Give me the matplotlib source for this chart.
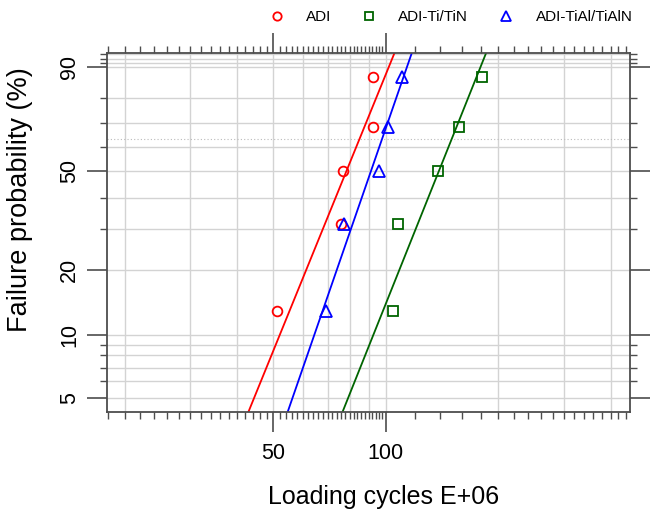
import numpy as np
import matplotlib
matplotlib.use("Agg")
import matplotlib.pyplot as plt
from matplotlib.lines import Line2D
from matplotlib.ticker import FixedLocator, NullFormatter, FixedFormatter

plt.rcParams['font.family'] = ['Liberation Sans', 'DejaVu Sans']

# ---- data (loading cycles, E+06) ----
series_names = ["ADI", "ADI-Ti/TiN", "ADI-TiAl/TiAlN"]
adi = [51.3, 75.8, 76.7, 92.3, 92.6]
ti_tin = [104.8, 108.1, 138.3, 157.5, 180.7]
tial_tialn = [69.1, 77.2, 95.9, 101.2, 110.4]
# fitted Weibull parameters (shape beta, scale eta)
shapes = [4.58, 4.66, 5.39]
scales = [85.0, 150.1, 97.7]
colors = ["#FF0000", "#006400", "#0000FF"]
markers = ["o", "s", "^"]

y_major = [5, 10, 20, 50, 90]
y_minor = [6, 7, 8, 9, 30, 40, 60, 70, 80, 91, 92, 93]
x_major = [50, 100]
x_minor = list(range(18, 100, 2)) + list(range(120, 460, 20))
x_grid = [20, 30, 40, 50, 60, 70, 80, 90, 100, 200, 300, 400]


def wb(p):
    p = np.asarray(p, dtype=float)
    return np.log(-np.log(1.0 - p))


W, H = 650, 512
fig = plt.figure(figsize=(W / 100, H / 100), dpi=100)
L, R, T, B = 107, 630, 53.3, 411.7
ax = fig.add_axes([L / W, 1 - B / H, (R - L) / W, (B - T) / H])
ax.set_xscale("log")
xlim = (17.93, 451.0)
ylim = (-3.131, 0.9885)
ax.set_xlim(*xlim)
ax.set_ylim(*ylim)

# grid
gcol = "#D3D3D3"
for xv in x_grid:
    ax.axvline(xv, color=gcol, lw=1.0, zorder=0)
for pv in y_major + y_minor:
    ax.axhline(wb(pv / 100), color=gcol, lw=1.0, zorder=0)
ax.axhline(0.0, color="#BBBBBB", lw=0.8, ls=(0, (1, 2)), zorder=0)

# data
data = [adi, ti_tin, tial_tialn]
wline = np.linspace(ylim[0], ylim[1], 200)
for vals, beta, eta, c, m in zip(data, shapes, scales, colors, markers):
    v = np.sort(np.asarray(vals))
    n = len(v)
    ranks = (np.arange(1, n + 1) - 0.3) / (n + 0.4)
    ax.plot(v, wb(ranks), ls="none", marker=m, ms=7 if m != "^" else 8,
            mfc="none", mec=c, mew=1.3, zorder=3, clip_on=False)
    ax.plot(eta * np.exp(wline / beta), wline, color=c, lw=1.3, zorder=2)

# axes styling
scol = "#4D4D4D"
for s in ax.spines.values():
    s.set_color(scol)
    s.set_linewidth(1.3)

ax.xaxis.set_major_locator(FixedLocator(x_major))
ax.xaxis.set_minor_locator(FixedLocator(x_minor))
ax.xaxis.set_major_formatter(FixedFormatter([str(v) for v in x_major]))
ax.xaxis.set_minor_formatter(NullFormatter())

ax.yaxis.set_major_locator(FixedLocator(list(wb(np.array(y_major) / 100))))
ax.yaxis.set_minor_locator(FixedLocator(list(wb(np.array(y_minor) / 100))))
ax.yaxis.set_major_formatter(FixedFormatter([str(v) for v in y_major]))
ax.yaxis.set_minor_formatter(NullFormatter())

ax.tick_params(which="major", length=14.5, width=1.2, color=scol,
               top=True, right=True, direction="out", labelsize=15.5, pad=5)
ax.tick_params(axis="x", which="major", pad=8)
ax.tick_params(which="minor", length=5, width=1.0, color=scol,
               top=True, right=True, direction="out")
ax.tick_params(axis="y", labelrotation=90)
for lab in ax.get_yticklabels():
    lab.set_va("center")

ax.set_xlabel("Loading cycles E+06", fontsize=18)
ax.xaxis.set_label_coords((384 - L) / (R - L), -(497 - B) / (B - T))
ax.xaxis.label.set_va("center")
ax.set_ylabel("Failure probability (%)", fontsize=19.5)
ax.yaxis.set_label_coords(-(L - 20) / (R - L), (B - 200) / (B - T))
ax.yaxis.label.set_va("center")

# legend on top
handles = [Line2D([], [], ls="none", marker=m, mfc="none", mec=c, mew=1.3,
                  ms=6 if m != "^" else 7) for m, c in zip(markers, colors)]
fig.legend(handles, series_names, loc="center left",
           bbox_to_anchor=(263 / W, 1 - 17 / H), ncol=3, frameon=False,
           fontsize=11, handlelength=1.0, handletextpad=1.4,
           columnspacing=2.0, borderaxespad=0)

fig.savefig("out.png", dpi=100)
